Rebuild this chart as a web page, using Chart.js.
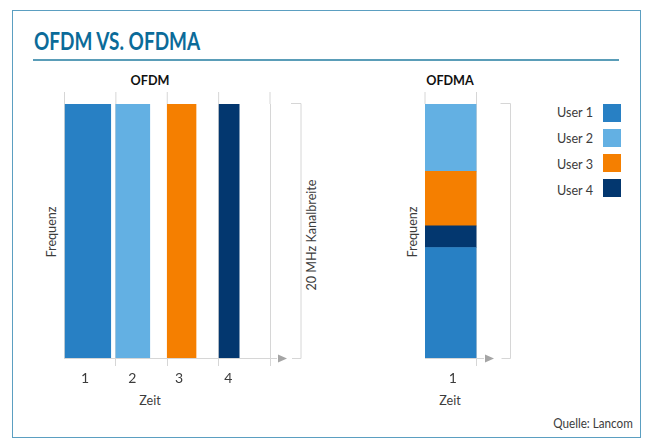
<!DOCTYPE html>
<html lang="de">
<head>
<meta charset="UTF-8">
<title>OFDM vs. OFDMA</title>
<style>
    html, body { margin: 0; background: #fff; }
    body { width: 650px; height: 442px; position: relative; overflow: hidden;
           font-family: Lato, sans-serif; color: #3c3c3c; }
    .frame { position: absolute; left: 12px; top: 10px; width: 627px; height: 426px; border: 1.5px solid #5b9fc1; }
    .rule { position: absolute; left: 33px; top: 59px; width: 586px; height: 1.5px; background: #5a9db8; }
    h1 { position: absolute; left: 34px; top: 26px; margin: 0; font: bold 24px Lato, sans-serif;
         line-height: 30px; color: #0b6b99; white-space: nowrap; transform-origin: 0 50%; transform: scaleX(.79); }
    canvas { position: absolute; }
    .t { position: absolute; font-size: 14px; line-height: 16px; white-space: nowrap; transform: translate(-50%, -50%) scaleX(.9); }
    .b { font-weight: bold; color: #111; }
    .v { transform: translate(-50%, -50%) rotate(-90deg) scaleX(.9); }
    .sw { position: absolute; left: 603px; width: 18px; height: 18px; }
</style>
</head>
<body>
<div class="frame"></div>
<h1>OFDM VS. OFDMA</h1>
<div class="rule"></div>

<div class="t b" style="left:150px;top:80px">OFDM</div>
<div class="t b" style="left:450px;top:80px">OFDMA</div>
<div class="t v" style="left:51px;top:232px">Frequenz</div>
<div class="t v" style="left:412px;top:232px">Frequenz</div>
<div class="t v" style="left:311px;top:235px">20 MHz Kanalbreite</div>
<div class="t" style="left:150px;top:400px">Zeit</div>
<div class="t" style="left:450px;top:400px">Zeit</div>
<div class="t" style="left:593px;top:423px;font-size:13px">Quelle: Lancom</div>

<canvas id="ofdmChart" style="left:40px;top:85px;width:290px;height:310px"></canvas>
<canvas id="ofdmaChart" style="left:400px;top:85px;width:130px;height:310px"></canvas>
<div id="legend"></div>

<script src="https://cdn.jsdelivr.net/npm/chart.js@4"></script>
<script>
var users = ['User 1', 'User 2', 'User 3', 'User 4'];
var userColors = ['#2880c4', '#63b0e3', '#f57f00', '#03376f'];

// OFDM: every user gets the whole channel for part of a time slot
var ofdmStart = [0, 1, 2, 3.01];
var ofdmEnd = [0.90, 1.66, 2.56, 3.40];
var ofdmTimeLabels = ['1', '2', '3', '4'];
var ofdmLabelPos = [0.40, 1.32, 2.23, 3.19];

// OFDMA: one time slot, channel split between users (MHz), bottom to top
var ofdmaTimeLabels = ['1'];
var ofdmaOrder = [0, 3, 2, 1];
var ofdmaMHz = [8.7, 1.7, 4.3, 5.3];

var gray = '#d6d6d6';
var labelFont = { family: 'Lato, sans-serif', size: 14 };

// axis arrow, the bracket for the channel width and the grid stubs above the bars
function furniture(arrowTip, bracketX, gridPixels) {
    return {
        id: 'furniture',
        afterDraw: function (chart) {
            var c = chart.ctx, a = chart.chartArea;
            c.save();
            c.strokeStyle = gray;
            c.lineWidth = 1;
            c.beginPath();
            gridPixels(chart).forEach(function (x) { c.moveTo(x, a.top - 12); c.lineTo(x, a.top); });
            // axis line on to the arrow
            c.moveTo(a.right, a.bottom + 0.5);
            c.lineTo(arrowTip - 10, a.bottom + 0.5);
            // bracket
            c.moveTo(bracketX - 10, a.top - 0.5);
            c.lineTo(bracketX, a.top - 0.5);
            c.lineTo(bracketX, a.bottom + 0.5);
            c.lineTo(bracketX - 9, a.bottom + 0.5);
            c.stroke();
            c.fillStyle = '#a5a5a5';
            c.beginPath();
            c.moveTo(arrowTip - 9, a.bottom - 3.5);
            c.lineTo(arrowTip, a.bottom + 0.5);
            c.lineTo(arrowTip - 9, a.bottom + 4.5);
            c.fill();
            c.restore();
        }
    };
}

function fixHeight(h) {
    return function (scale) { scale.height = h; };
}

var ofdmDatasets = users.map(function (u, i) {
    return {
        label: u,
        data: [[ofdmStart[i], ofdmEnd[i]]],
        backgroundColor: userColors[i],
        barPercentage: 1,
        categoryPercentage: 1,
        grouped: false
    };
});

new Chart(document.getElementById('ofdmChart'), {
    type: 'bar',
    data: { labels: ['20 MHz'], datasets: ofdmDatasets },
    plugins: [furniture(247, 261, function (chart) {
        return chart.scales.x.ticks.map(function (t) { return chart.scales.x.getPixelForValue(t.value); });
    })],
    options: {
        indexAxis: 'y',
        responsive: false,
        animation: false,
        layout: { padding: { left: 24.5, right: 60, top: 19, bottom: 0 } },
        plugins: { legend: { display: false }, tooltip: { enabled: false } },
        scales: {
            y: { display: false },
            x: {
                min: 0, max: 4,
                position: 'bottom',
                afterFit: fixHeight(0),
                ticks: { stepSize: 1, display: false },
                border: { color: gray },
                grid: {
                    color: gray, tickLength: 8,
                    tickColor: function (ctx) { return ctx.index === 0 ? 'transparent' : gray; }
                }
            },
            // second axis on the same range, only for the slot numbers
            slots: {
                type: 'linear', axis: 'x',
                min: 0, max: 4,
                position: 'bottom',
                afterFit: fixHeight(37),
                afterBuildTicks: function (scale) {
                    scale.ticks = ofdmLabelPos.map(function (v) { return { value: v }; });
                },
                border: { display: false },
                grid: { display: false },
                ticks: {
                    padding: 4, maxRotation: 0, autoSkip: false, color: '#3c3c3c', font: labelFont,
                    callback: function (v, i) { return ofdmTimeLabels[i]; }
                }
            }
        }
    }
});

var ofdmaDatasets = ofdmaOrder.map(function (u, i) {
    return {
        label: users[u],
        data: [ofdmaMHz[i]],
        backgroundColor: userColors[u],
        barPercentage: 1,
        categoryPercentage: 1
    };
});

new Chart(document.getElementById('ofdmaChart'), {
    type: 'bar',
    data: { labels: ofdmaTimeLabels, datasets: ofdmaDatasets },
    plugins: [furniture(94, 110.5, function (chart) {
        return [chart.chartArea.left, chart.chartArea.right];
    })],
    options: {
        responsive: false,
        animation: false,
        layout: { padding: { left: 25, right: 53.5, top: 19, bottom: 0 } },
        plugins: { legend: { display: false }, tooltip: { enabled: false } },
        scales: {
            y: { display: false, stacked: true, min: 0, max: 20 },
            x: {
                stacked: true,
                afterFit: fixHeight(37),
                border: { color: gray },
                grid: {
                    color: gray, tickLength: 8,
                    tickColor: function (ctx) { return ctx.index === 0 ? 'transparent' : gray; }
                },
                ticks: { padding: 4, labelOffset: 2, color: '#3c3c3c', font: labelFont }
            }
        }
    }
});

// legend: label left, swatch right
var legend = document.getElementById('legend');
users.forEach(function (u, i) {
    var top = 104 + i * 25;
    var sw = document.createElement('div');
    sw.className = 'sw';
    sw.style.top = top + 'px';
    sw.style.background = userColors[i];
    legend.appendChild(sw);
    var t = document.createElement('div');
    t.className = 't';
    t.style.left = '575px';
    t.style.top = (top + 8 + i) + 'px';
    t.textContent = u;
    legend.appendChild(t);
});
</script>
</body>
</html>
